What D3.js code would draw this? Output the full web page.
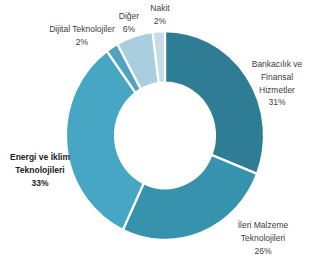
<!DOCTYPE html>
<html><head><meta charset="utf-8">
<script src="https://cdn.jsdelivr.net/npm/d3@7"></script>
<style>body{margin:0;background:#fff}svg{display:block}</style>
</head><body>
<script>
const categories = ["Bankacılık ve Finansal Hizmetler","İleri Malzeme Teknolojileri","Energi ve İklim Teknolojileri","Dijital Teknolojiler","Diğer","Nakit"];
const values = [31,26,33,2,6,2];
const colors = ["#2f7c95","#3792ae","#46a6c4","#4fa3c1","#a9cfde","#c6dde7"];
const labelLines = [
  ["Bankacılık ve","Finansal","Hizmetler","31%"],
  ["İleri Malzeme","Teknolojileri","26%"],
  ["Energi ve İklim","Teknolojileri","33%"],
  ["Dijital Teknolojiler","2%"],
  ["Diğer","6%"],
  ["Nakit","2%"]
];
const labelPos = [[277,64],[263,225],[40,157],[82,29],[129,16],[160,8]];
const bold = [false,false,true,false,false,false];

const W=316,H=260;
const svg=d3.select("body").append("svg").attr("width",W).attr("height",H);
const g=svg.append("g").attr("transform","translate(165,135.5) scale(1,1.055)");
const pie=d3.pie().sort(null).value(d=>d)(values);
const arc=d3.arc().innerRadius(50).outerRadius(99);
g.selectAll("path").data(pie).join("path")
  .attr("d",arc).attr("fill",(d,i)=>colors[i])
  .attr("stroke","#fff").attr("stroke-width",2.2);

labelLines.forEach((lines,i)=>{
  const t=svg.append("text").attr("text-anchor","middle")
    .attr("font-family","Liberation Sans, Arial, sans-serif")
    .attr("font-size",8.5).attr("fill",bold[i]?"#222":"#404040")
    .attr("font-weight",bold[i]?"bold":"normal");
  lines.forEach((l,j)=>{
    t.append("tspan").attr("x",labelPos[i][0]).attr("y",labelPos[i][1]+j*12.8+3).text(l);
  });
});
</script>
</body></html>
